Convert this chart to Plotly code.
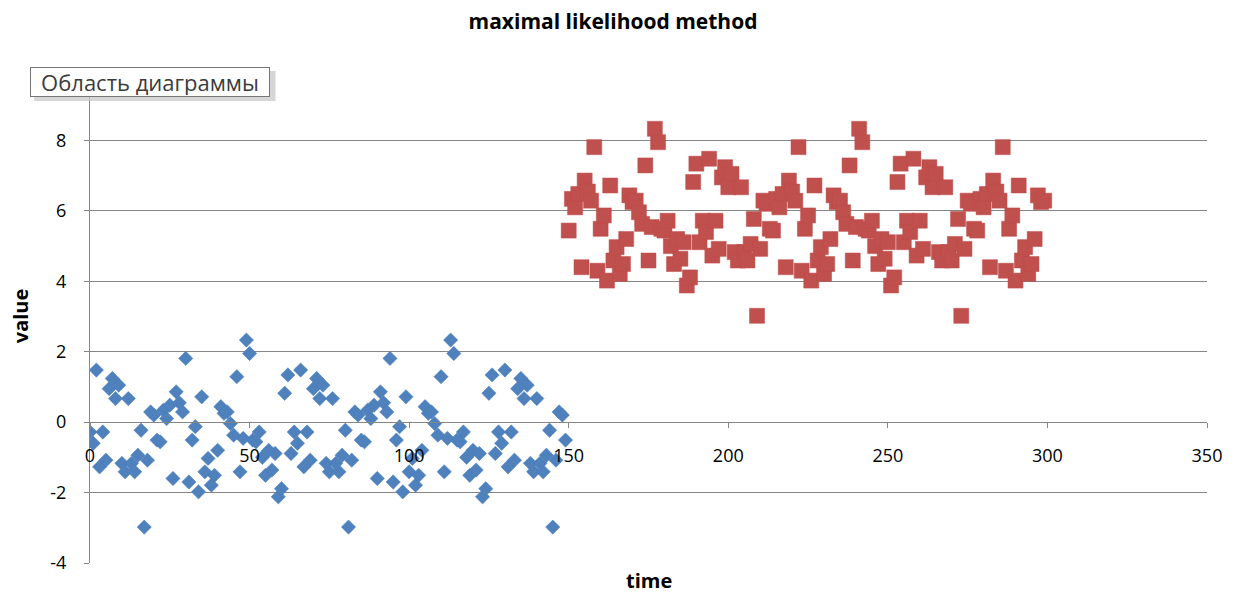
import plotly.graph_objects as go

# time values
time_blue = list(range(0, 150))
time_red = list(range(150, 300))

# blue series
value_blue = [
    -0.28, -0.60, 1.48, -1.27, -0.28, -1.08, 0.95, 1.24, 0.67, 1.05,
    -1.17, -1.41, 0.67, -1.17, -1.41, -0.94, -0.23, -2.98, -1.08, 0.29,
    0.20, -0.51, -0.56, 0.34, 0.10, 0.48, -1.60, 0.86, 0.55, 0.29,
    1.81, -1.70, -0.51, -0.13, -1.98, 0.72, -1.41, -1.03, -1.79, -1.51,
    -0.80, 0.44, 0.25, 0.29, -0.04, -0.37, 1.29, -1.41, -0.46, 2.33,
    1.95, -0.51, -0.56, -0.28, -1.00, -1.51, -0.80, -1.36, -0.89, -2.12,
    -1.89, 0.82, 1.34, -0.89,
    -0.28, -0.60, 1.48, -1.27, -0.28, -1.08, 0.95, 1.24, 0.67, 1.05,
    -1.17, -1.41, 0.67, -1.17, -1.41, -0.94, -0.23, -2.98, -1.08, 0.29,
    0.20, -0.51, -0.56, 0.34, 0.10, 0.48, -1.60, 0.86, 0.55, 0.29,
    1.81, -1.70, -0.51, -0.13, -1.98, 0.72, -1.41, -1.03, -1.79, -1.51,
    -0.80, 0.44, 0.25, 0.29, -0.04, -0.37, 1.29, -1.41, -0.46, 2.33,
    1.95, -0.51, -0.56, -0.28, -1.00, -1.51, -0.80, -1.36, -0.89, -2.12,
    -1.89, 0.82, 1.34, -0.89,
    -0.28, -0.60, 1.48, -1.27, -0.28, -1.08, 0.95, 1.24, 0.67, 1.05,
    -1.17, -1.41, 0.67, -1.17, -1.41, -0.94, -0.23, -2.98, -1.08, 0.29,
    0.20, -0.51,
]

# red series
value_red = [
    5.44, 6.34, 6.10, 6.48, 4.40, 6.86, 6.55, 6.29, 7.81, 4.30,
    5.49, 5.87, 4.02, 6.72, 4.59, 4.97, 4.21, 4.49, 5.20, 6.44,
    6.25, 6.29, 5.96, 5.63, 7.29, 4.59, 5.54, 8.33, 7.95, 5.49,
    5.44, 5.72, 5.00, 4.49, 5.20, 4.64, 5.11, 3.88, 4.11, 6.82,
    7.34, 5.11,
    5.72, 5.40, 7.48, 4.73, 5.72, 4.92, 6.95, 7.24, 6.67, 7.05,
    4.83, 4.59, 6.67, 4.83, 4.59, 5.06, 5.77, 3.02, 4.92, 6.29,
    6.20, 5.49, 5.44, 6.34, 6.10, 6.48, 4.40, 6.86, 6.55, 6.29,
    7.81, 4.30, 5.49, 5.87, 4.02, 6.72, 4.59, 4.97, 4.21, 4.49,
    5.20, 6.44, 6.25, 6.29, 5.96, 5.63, 7.29, 4.59, 5.54, 8.33,
    7.95, 5.49, 5.44, 5.72, 5.00, 4.49, 5.20, 4.64, 5.11, 3.88,
    4.11, 6.82, 7.34, 5.11,
    5.72, 5.40, 7.48, 4.73, 5.72, 4.92, 6.95, 7.24, 6.67, 7.05,
    4.83, 4.59, 6.67, 4.83, 4.59, 5.06, 5.77, 3.02, 4.92, 6.29,
    6.20, 5.49, 5.44, 6.34, 6.10, 6.48, 4.40, 6.86, 6.55, 6.29,
    7.81, 4.30, 5.49, 5.87, 4.02, 6.72, 4.59, 4.97, 4.21, 4.49,
    5.20, 6.44, 6.25, 6.29,
]

x_ticks = [0, 50, 100, 150, 200, 250, 300, 350]
y_ticks = [-4, -2, 0, 2, 4, 6, 8, 10]
y_tick_labels = ["-4", "-2", "0", "2", "4", "6", "8", ""]

FONT = "Open Sans"
W, H = 1234, 594
L, R, T, B = 90, 24, 70, 31
pw, ph = W - L - R, H - T - B

def px_x(p):
    return (p - L) / pw

def px_y(p):
    return (H - B - p) / ph

fig = go.Figure()
fig.add_trace(go.Scatter(
    x=time_blue, y=value_blue, mode="markers", name="blue",
    marker=dict(symbol="diamond", size=11, color="#4F81BD",
                line=dict(width=0.5, color="#4A7EBB")),
))
fig.add_trace(go.Scatter(
    x=time_red, y=value_red, mode="markers", name="red",
    marker=dict(symbol="square", size=15, color="#C0504D",
                line=dict(width=0.5, color="#BE4B48")),
))

y0_frac = (0 - (-4)) / 14.0

fig.update_layout(
    width=W, height=H, autosize=False,
    margin=dict(l=L, r=R, t=T, b=B),
    paper_bgcolor="white", plot_bgcolor="white",
    showlegend=False,
    font=dict(family=FONT, size=18, color="#000000"),
    title=dict(text="<b>maximal likelihood method</b>", x=613 / W, xanchor="center",
               y=1 - 22 / H, yanchor="middle", yref="container",
               font=dict(family=FONT, size=21, color="#000000")),
    xaxis=dict(range=[0, 350], tickvals=x_ticks, showgrid=False, zeroline=False,
               showline=True, linecolor="#868686", linewidth=1,
               ticks="outside", ticklen=5, tickcolor="#868686",
               anchor="free", position=y0_frac, ticklabelstandoff=12,
               tickfont=dict(family=FONT, size=18, color="#000000")),
    yaxis=dict(range=[-4, 10], tickvals=y_ticks, ticktext=y_tick_labels,
               showgrid=True, gridcolor="#868686",
               gridwidth=1, zeroline=False, showline=True, linecolor="#868686",
               linewidth=1, ticks="outside", ticklen=5, tickcolor="#868686",
               ticklabelstandoff=14,
               tickfont=dict(family=FONT, size=18, color="#000000")),
)

# axis titles
fig.add_annotation(text="<b>time</b>", x=px_x(651), y=px_y(580), xref="paper", yref="paper",
                   showarrow=False, xanchor="center", yanchor="middle",
                   font=dict(family=FONT, size=20, color="#000000"))
fig.add_annotation(text="<b>value</b>", x=px_x(20), y=px_y(316), xref="paper", yref="paper",
                   showarrow=False, xanchor="center", yanchor="middle", textangle=-90,
                   font=dict(family=FONT, size=20, color="#000000"))

# tooltip-like box "Область диаграммы"
fig.add_shape(type="rect", xref="paper", yref="paper",
              x0=px_x(34), x1=px_x(276), y0=px_y(101), y1=px_y(71),
              fillcolor="#C4C4C4", line=dict(width=0), opacity=0.7)
fig.add_annotation(text="Область диаграммы", x=px_x(30), y=px_y(67), xref="paper", yref="paper",
                   showarrow=False, xanchor="left", yanchor="top", align="center",
                   width=236, height=26, bgcolor="white", bordercolor="#767676",
                   borderwidth=1, borderpad=1,
                   font=dict(family=FONT, size=22, color="#3B3B3B"))

fig.write_html("out.html")
